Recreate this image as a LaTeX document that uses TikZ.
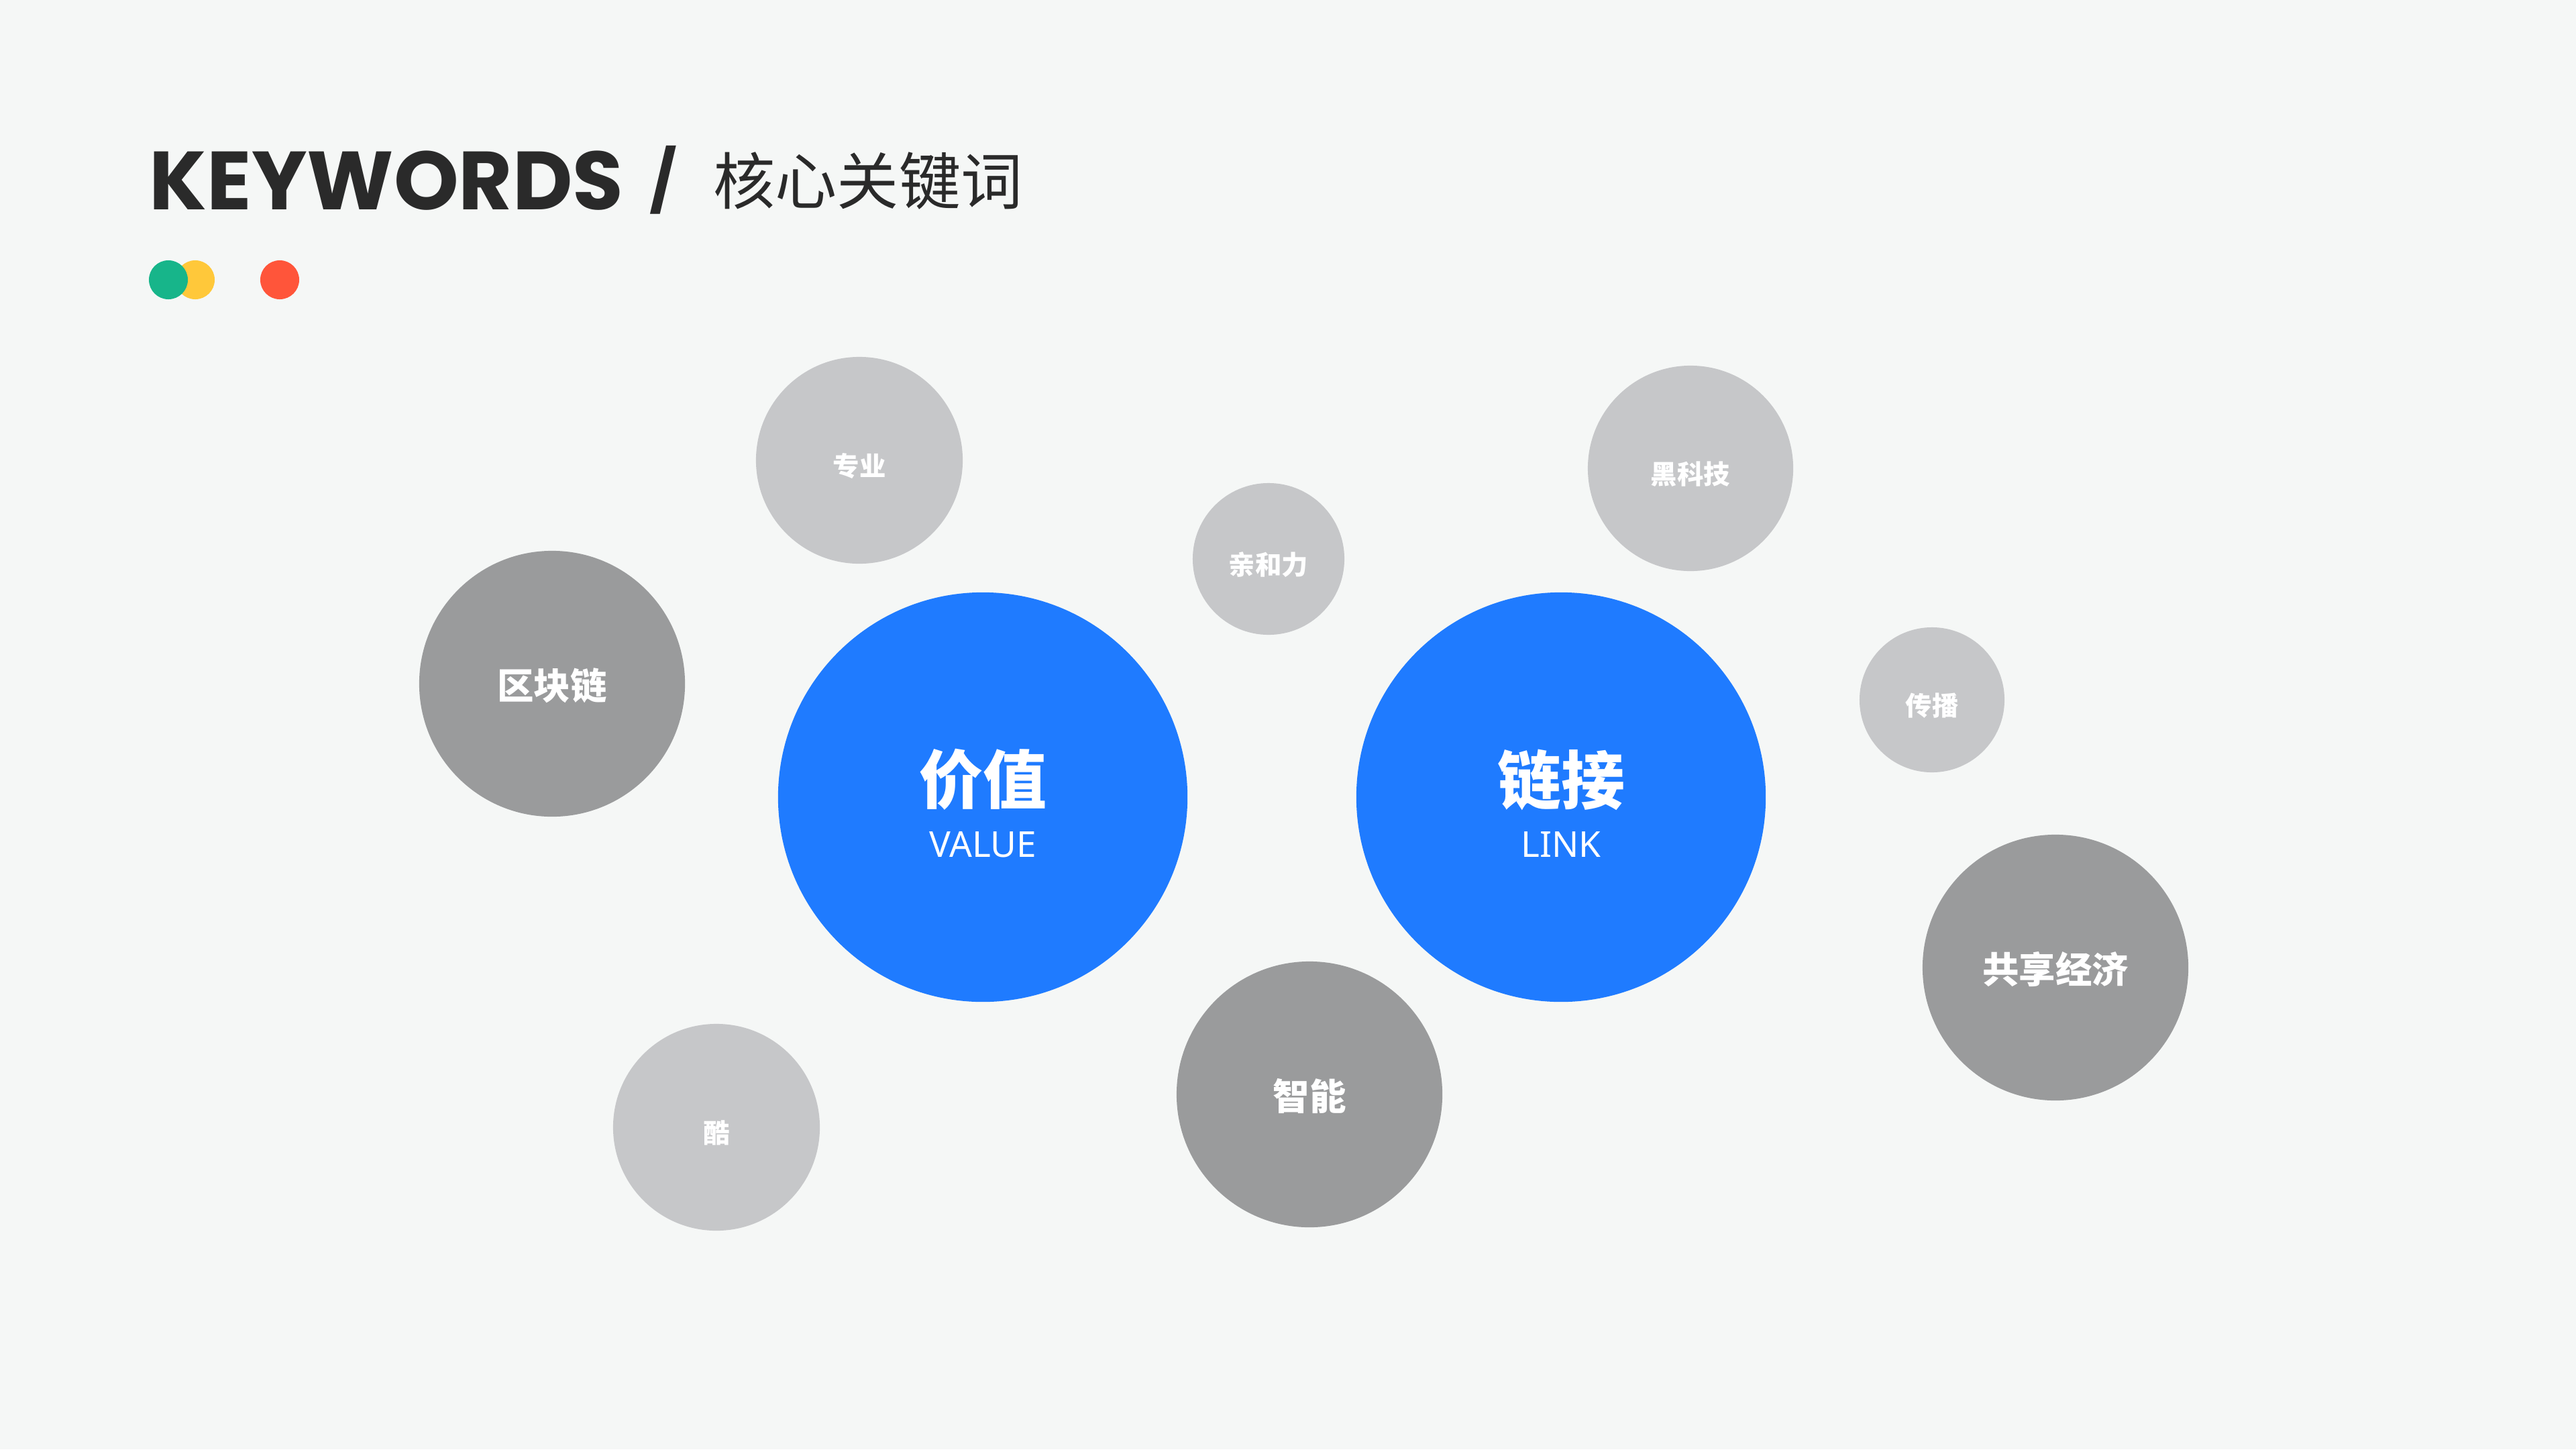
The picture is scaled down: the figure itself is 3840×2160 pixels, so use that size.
\documentclass[tikz,border=0pt]{standalone}
\usepackage{fontspec}
\setmainfont{Noto Sans}
\newfontfamily\cjk{Noto Sans CJK SC}
\newfontfamily\titlefont{Poppins}
\definecolor{bgc}{HTML}{F5F7F6}
\definecolor{blueC}{HTML}{1F7BFF}
\definecolor{darkG}{HTML}{9A9B9C}
\definecolor{lightG}{HTML}{C6C7C9}
\definecolor{greenC}{HTML}{17B58A}
\definecolor{yellowC}{HTML}{FFC83A}
\definecolor{redC}{HTML}{FF553A}
\definecolor{titleC}{HTML}{2A2A2A}
\tikzset{
  bubble/.style={circle, inner sep=0pt, draw=none},
  bigb/.style={bubble, fill=blueC},
  midb/.style={bubble, fill=darkG},
  smallb/.style={bubble, fill=lightG},
  midt/.style={inner sep=0pt, text=white, font=\cjk\bfseries\fontsize{15.5pt}{17pt}\selectfont},
  smallt/.style={inner sep=0pt, text=white, font=\cjk\bfseries\fontsize{11.2pt}{13pt}\selectfont},
  dot/.style={circle, inner sep=0pt, minimum size=0.58cm, draw=none},
}
\begin{document}
\begin{tikzpicture}[x=0.01cm,y=-0.01cm]
\fill[bgc] (0,0) rectangle (3840,2160);
\useasboundingbox (0,0) rectangle (3840,2160);
% title
\node[anchor=base west, inner sep=0pt, text=titleC, font=\titlefont\bfseries\fontsize{35pt}{40pt}\selectfont] (kw) at (222,312) {KEYWORDS};
\node[anchor=base west, inner sep=0pt, text=titleC, font=\titlefont\bfseries\fontsize{25.5pt}{30pt}\selectfont] (slash) at (968,302) {/};
\node[anchor=base west, inner sep=0pt, text=titleC, font=\cjk\fontsize{26.2pt}{30pt}\selectfont] (kwc) at (1063,304) {核心关键词};
% dots
\node[dot, fill=yellowC] (dy) at (291,417) {};
\node[dot, fill=greenC] (dg) at (251,417) {};
\node[dot, fill=redC] (dr) at (417,417) {};
% big circles
\node[bigb, minimum size=6.10cm] (value) at (1465,1188) {};
\node[text=white, font=\cjk\bfseries\fontsize{27pt}{30pt}\selectfont] (valuec) at (1465,1162) {价值};
\node[text=white, font=\fontsize{15.1pt}{17pt}\selectfont] (valuee) at (1465,1259) {VALUE};
\node[bigb, minimum size=6.10cm] (link) at (2327,1188) {};
\node[text=white, font=\cjk\bfseries\fontsize{27pt}{30pt}\selectfont] (linkc) at (2327,1162) {链接};
\node[text=white, font=\fontsize{15.1pt}{17pt}\selectfont] (linke) at (2327,1259) {LINK};
% mid circles
\node[midb, minimum size=3.96cm] (qkl) at (823,1019) {};
\node[midt] (qklt) at (823,1022) {区块链};
\node[midb, minimum size=3.96cm] (gxjj) at (3064,1442) {};
\node[midt] (gxjjt) at (3064,1445) {共享经济};
\node[midb, minimum size=3.96cm] (zn) at (1952,1631) {};
\node[midt] (znt) at (1952,1634) {智能};
% small circles
\node[smallb, minimum size=3.08cm] (zy) at (1281,686) {};
\node[smallt] (zyt) at (1281,695) {专业};
\node[smallb, minimum size=2.26cm] (qhl) at (1891,833) {};
\node[smallt] (qhlt) at (1891,842) {亲和力};
\node[smallb, minimum size=3.06cm] (hkj) at (2520,698) {};
\node[smallt] (hkjt) at (2520,707) {黑科技};
\node[smallb, minimum size=2.16cm] (cb) at (2880,1043) {};
\node[smallt] (cbt) at (2880,1052) {传播};
\node[smallb, minimum size=3.08cm] (ku) at (1068,1680) {};
\node[smallt] (kut) at (1068,1688) {酷};
\end{tikzpicture}
\end{document}
